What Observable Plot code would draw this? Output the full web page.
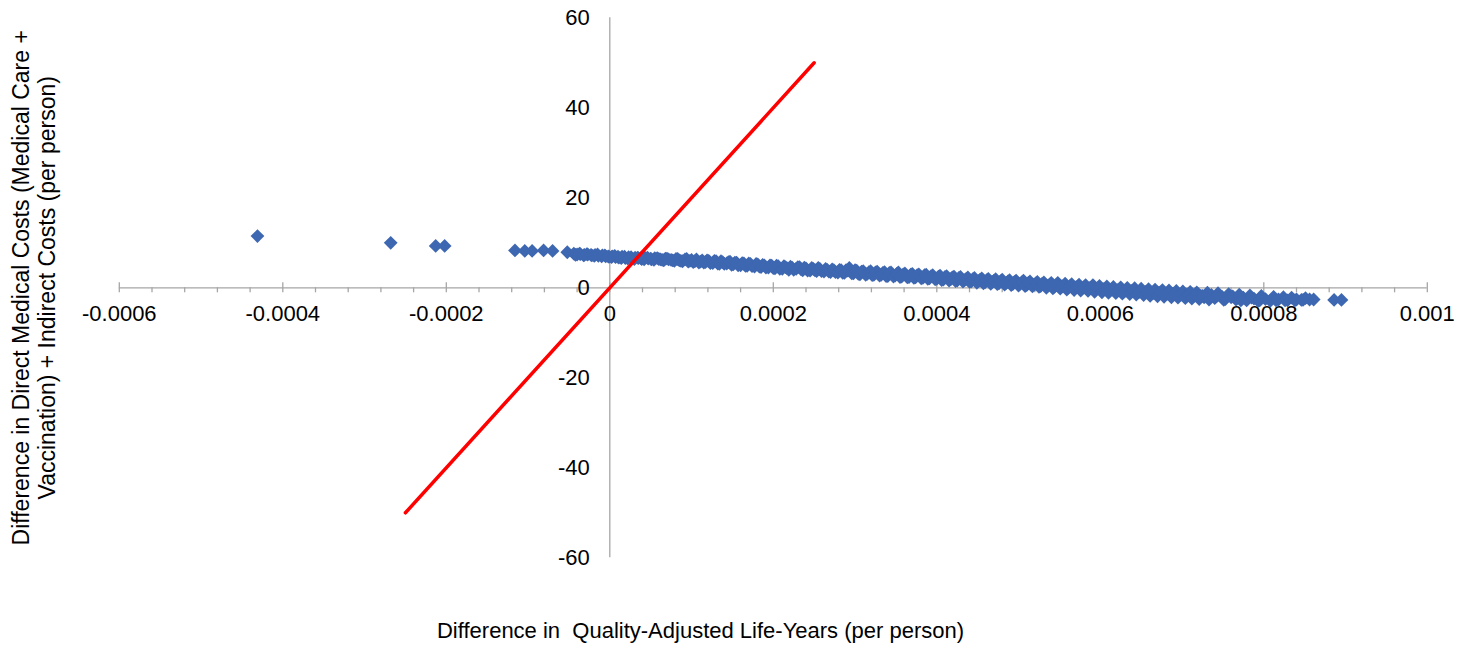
<!DOCTYPE html>
<html>
<head>
<meta charset="utf-8">
<script src="https://cdn.jsdelivr.net/npm/d3@7"></script>
<script src="https://cdn.jsdelivr.net/npm/@observablehq/plot@0.6"></script>
<style>
  html, body { margin: 0; padding: 0; background: #ffffff; }
  #chart { width: 1469px; height: 645px; }
</style>
</head>
<body>
<div id="chart"></div>
<script>
// Difference in QALYs (per person)
const qaly = [
  -431e-6, -268e-6, -213e-6, -202e-6, -116e-6, -104e-6, -95e-6, -81e-6, -70e-6, -52e-6,
  -44e-6, -40e-6, -36e-6, -31e-6, -27e-6, -22e-6, -18e-6, -14e-6, -9e-6, -5e-6,
  -1e-6, 3e-6, 7e-6, 11e-6, 15e-6, 19e-6, 23e-6, 27e-6, 31e-6, 35e-6,
  39e-6, 43e-6, 47e-6, 51e-6, 55e-6, 60e-6, 64e-6, 68e-6, 72e-6, 77e-6,
  81e-6, 85e-6, 89e-6, 94e-6, 98e-6, 102e-6, 106e-6, 111e-6, 115e-6, 119e-6,
  123e-6, 128e-6, 132e-6, 136e-6, 140e-6, 145e-6, 149e-6, 153e-6, 157e-6, 162e-6,
  166e-6, 170e-6, 174e-6, 179e-6, 183e-6, 187e-6, 191e-6, 196e-6, 200e-6, 204e-6,
  208e-6, 213e-6, 217e-6, 221e-6, 225e-6, 230e-6, 234e-6, 238e-6, 242e-6, 247e-6,
  251e-6, 255e-6, 259e-6, 264e-6, 268e-6, 272e-6, 276e-6, 281e-6, 285e-6, 289e-6,
  293e-6, 298e-6, 302e-6, 306e-6, 310e-6, 315e-6, 319e-6, 323e-6, 327e-6, 332e-6,
  336e-6, 340e-6, 344e-6, 349e-6, 353e-6, 357e-6, 361e-6, 366e-6, 370e-6, 374e-6,
  378e-6, 383e-6, 387e-6, 391e-6, 395e-6, 400e-6, 404e-6, 408e-6, 412e-6, 417e-6,
  421e-6, 425e-6, 429e-6, 434e-6, 438e-6, 442e-6, 446e-6, 451e-6, 455e-6, 459e-6,
  463e-6, 468e-6, 472e-6, 476e-6, 480e-6, 485e-6, 489e-6, 493e-6, 497e-6, 502e-6,
  506e-6, 510e-6, 514e-6, 519e-6, 523e-6, 527e-6, 531e-6, 536e-6, 540e-6, 544e-6,
  548e-6, 553e-6, 557e-6, 561e-6, 565e-6, 570e-6, 574e-6, 578e-6, 582e-6, 587e-6,
  591e-6, 595e-6, 599e-6, 604e-6, 608e-6, 612e-6, 616e-6, 621e-6, 625e-6, 629e-6,
  633e-6, 638e-6, 642e-6, 646e-6, 650e-6, 655e-6, 659e-6, 663e-6, 667e-6, 672e-6,
  676e-6, 680e-6, 684e-6, 689e-6, 693e-6, 697e-6, 701e-6, 706e-6, 710e-6, 714e-6,
  718e-6, 723e-6, 727e-6, 731e-6, 736e-6, 740e-6, 744e-6, 749e-6, 753e-6, 757e-6,
  762e-6, 766e-6, 770e-6, 775e-6, 779e-6, 783e-6, 788e-6, 793e-6, 797e-6, 802e-6,
  808e-6, 812e-6, 818e-6, 824e-6, 829e-6, 834e-6, 840e-6, 846e-6, 851e-6, 856e-6,
  861e-6, 886e-6, 895e-6,
  -42e-6, -37e-6, -32e-6, -28e-6, -23e-6, -19e-6, -15e-6, -10e-6, -6e-6, -2e-6,
  2e-6, 6e-6, 10e-6, 14e-6, 18e-6, 22e-6, 26e-6, 30e-6, 34e-6, 38e-6,
  42e-6, 46e-6, 50e-6, 54e-6, 58e-6, 62e-6, 66e-6, 70e-6, 75e-6, 79e-6,
  83e-6, 87e-6, 92e-6, 96e-6, 100e-6, 104e-6, 109e-6, 113e-6, 117e-6, 121e-6,
  126e-6, 130e-6, 134e-6, 138e-6, 143e-6, 147e-6, 151e-6, 155e-6, 160e-6, 164e-6,
  168e-6, 172e-6, 177e-6, 181e-6, 185e-6, 189e-6, 194e-6, 198e-6, 202e-6, 206e-6,
  211e-6, 215e-6, 219e-6, 223e-6, 228e-6, 232e-6, 236e-6, 240e-6, 245e-6, 249e-6,
  253e-6, 257e-6, 262e-6, 266e-6, 270e-6, 274e-6, 279e-6, 283e-6, 287e-6, 291e-6,
  296e-6, 300e-6, 304e-6, 308e-6, 313e-6, 317e-6, 321e-6, 325e-6, 330e-6, 334e-6,
  338e-6, 342e-6, 347e-6, 351e-6, 355e-6, 359e-6, 364e-6, 368e-6, 372e-6, 376e-6,
  381e-6, 385e-6, 389e-6, 393e-6, 398e-6, 402e-6, 406e-6, 410e-6, 415e-6, 419e-6,
  423e-6, 427e-6, 432e-6, 436e-6, 440e-6, 444e-6, 449e-6, 453e-6, 457e-6, 461e-6,
  466e-6, 470e-6, 474e-6, 478e-6, 483e-6, 487e-6, 491e-6, 495e-6, 500e-6, 504e-6,
  508e-6, 512e-6, 517e-6, 521e-6, 525e-6, 529e-6, 534e-6, 538e-6, 542e-6, 546e-6,
  551e-6, 555e-6, 559e-6, 563e-6, 568e-6, 572e-6, 576e-6, 580e-6, 585e-6, 589e-6,
  593e-6, 597e-6, 602e-6, 606e-6, 610e-6, 614e-6, 619e-6, 623e-6, 627e-6, 631e-6,
  636e-6, 640e-6, 644e-6, 648e-6, 653e-6, 657e-6, 661e-6, 665e-6, 670e-6, 674e-6,
  678e-6, 682e-6, 687e-6, 691e-6, 695e-6, 699e-6, 704e-6, 708e-6, 712e-6, 716e-6,
  721e-6, 725e-6, 733e-6, 742e-6, 751e-6, 760e-6, 772e-6, 785e-6, 795e-6, 815e-6,
  826e-6, 838e-6, 848e-6
];
// Difference in direct medical + indirect costs (per person)
const cost = [
  11.5, 10.0, 9.3, 9.3, 8.3, 8.2, 8.2, 8.3, 8.2, 7.9,
  7.6, 7.4, 7.5, 7.3, 7.4, 7.2, 7.3, 7.1, 7.2, 7.0,
  6.9, 7.0, 6.8, 6.7, 6.9, 6.6, 6.8, 6.5, 6.7, 6.6,
  6.4, 6.7, 6.5, 6.3, 6.6, 6.4, 6.2, 6.5, 6.3, 6.1,
  6.4, 6.1, 5.9, 6.4, 6.0, 5.7, 6.3, 5.8, 5.6, 6.1,
  5.5, 6.0, 5.4, 5.9, 5.3, 5.7, 5.1, 5.6, 5.0, 5.5,
  4.9, 5.4, 4.8, 5.3, 4.7, 5.1, 4.5, 5.0, 4.4, 4.9,
  4.2, 4.8, 4.3, 4.7, 4.0, 4.6, 4.1, 4.5, 3.8, 4.4,
  3.9, 4.4, 3.7, 4.2, 3.6, 4.1, 3.5, 4.0, 3.3, 3.9,
  4.4, 3.2, 3.8, 3.0, 3.7, 3.1, 3.7, 2.9, 3.6, 2.9,
  3.5, 2.6, 3.4, 2.7, 3.4, 2.5, 3.2, 2.4, 3.1, 2.3,
  3.0, 2.2, 2.9, 2.1, 2.8, 2.0, 2.7, 1.8, 2.6, 1.9,
  2.5, 1.6, 2.4, 1.7, 2.3, 1.4, 2.2, 1.5, 2.1, 1.2,
  2.0, 1.3, 1.9, 1.0, 1.8, 1.1, 1.7, 0.8, 1.6, 0.9,
  1.6, 0.6, 1.4, 0.7, 1.3, 0.4, 1.2, 0.5, 1.1, 0.2,
  1.1, 0.3, 0.9, 0.0, 0.8, 0.1, 0.7, -0.2, 0.6, -0.1,
  0.6, -0.4, 0.4, -0.3, 0.3, -0.6, 0.2, -0.5, 0.1, -0.8,
  0.0, -0.7, -0.1, -1.0, -0.2, -0.9, -0.3, -1.2, -0.4, -1.1,
  -0.5, -1.4, -0.6, -1.3, -0.7, -1.6, -0.8, -1.5, -0.9, -1.9,
  -1.0, -1.8, -2.1, -1.1, -1.6, -2.3, -1.2, -2.0, -2.5, -1.4,
  -1.9, -2.6, -1.5, -2.2, -2.8, -1.7, -2.4, -2.9, -1.8, -2.5,
  -2.9, -2.0, -2.6, -2.1, -2.8, -2.2, -2.6, -2.7, -2.3, -2.6,
  -2.6, -2.7, -2.7,
  7.3, 7.6, 7.2, 7.5, 7.3, 7.1, 7.4, 7.0, 7.2, 7.0,
  6.8, 7.1, 6.9, 6.6, 6.9, 6.5, 6.8, 6.4, 6.7, 6.6,
  6.3, 6.7, 6.5, 6.2, 6.6, 6.3, 6.1, 6.5, 6.2, 6.0,
  6.4, 6.0, 6.3, 5.8, 6.2, 5.9, 5.6, 6.1, 5.7, 6.0,
  5.5, 5.9, 5.3, 5.7, 5.4, 5.8, 5.2, 5.6, 5.0, 5.4,
  4.9, 5.3, 4.7, 5.2, 4.6, 5.0, 4.5, 4.9, 4.3, 4.8,
  4.2, 4.6, 4.0, 4.5, 4.2, 4.6, 3.9, 4.3, 3.8, 4.2,
  3.7, 4.2, 3.6, 4.0, 3.5, 3.9, 3.4, 3.9, 3.3, 3.8,
  3.2, 3.9, 3.1, 3.6, 2.9, 3.5, 2.8, 3.4, 2.7, 3.3,
  2.6, 3.3, 2.5, 3.1, 2.4, 3.0, 2.3, 2.9, 2.2, 2.8,
  2.1, 2.8, 2.0, 2.6, 1.9, 2.5, 1.7, 2.4, 1.6, 2.3,
  1.5, 2.2, 1.4, 2.0, 1.3, 1.9, 1.1, 1.8, 1.0, 1.7,
  0.9, 1.6, 0.8, 1.5, 0.7, 1.4, 0.6, 1.3, 0.5, 1.2,
  0.4, 1.1, 0.3, 1.0, 0.2, 0.9, 0.0, 0.7, -0.1, 0.6,
  -0.2, 0.5, -0.4, 0.4, -0.5, 0.3, -0.6, 0.1, -0.7, 0.0,
  -0.9, -0.1, -1.0, -0.2, -1.1, -0.3, -1.2, -0.4, -1.3, -0.6,
  -1.4, -0.7, -1.5, -0.9, -1.6, -1.0, -1.8, -1.1, -1.9, -1.2,
  -2.0, -1.3, -2.1, -1.4, -2.2, -1.5, -2.3, -1.6, -2.4, -1.7,
  -2.5, -1.8, -2.6, -1.9, -2.7, -2.1, -2.8, -2.2, -2.8, -2.8,
  -2.8, -2.8, -2.7
];
// Threshold (willingness-to-pay) line
const lineQaly = [-0.00025, 0.00025];
const lineCost = [-50, 50];
// Axis ticks and labels
const xTicks = [-0.0006, -0.0004, -0.0002, 0, 0.0002, 0.0004, 0.0006, 0.0008, 0.001];
const xTickLabels = ["-0.0006", "-0.0004", "-0.0002", "0", "0.0002", "0.0004", "0.0006", "0.0008", "0.001"];
const yTicks = [60, 40, 20, 0, -20, -40, -60];
const yTickLabels = ["60", "40", "20", "0", "-20", "-40", "-60"];
const xTitle = "Difference in  Quality-Adjusted Life-Years (per person)";
const yTitle = "Difference in Direct Medical Costs (Medical Care +\nVaccination) + Indirect Costs (per person)";

const points = qaly.map((q, i) => ({q, c: cost[i]}));
const threshold = lineQaly.map((q, i) => ({q, c: lineCost[i]}));
const xMinor = d3.range(0, 41).map(i => -0.0006 + i * 0.00004)
  .filter(v => !xTicks.some(t => Math.abs(t - v) < 1e-9));
const xTickRows = xTicks.map((t, i) => ({t, label: xTickLabels[i]}));
const yTickRows = yTicks.map((t, i) => ({t, label: yTickLabels[i]}));

const axisColor = "#a6a6a6";
const fs = 22;
const chart = Plot.plot({
  width: 1469,
  height: 645,
  marginLeft: 118.8,
  marginRight: 42.2,
  marginTop: 17.3,
  marginBottom: 87.7,
  x: {domain: [-0.0006, 0.001], axis: null},
  y: {domain: [-60, 60], axis: null},
  style: {fontFamily: "'Liberation Sans', Arial, Helvetica, sans-serif", fontSize: fs + "px", background: "#ffffff", color: "#000000"},
  marks: [
    Plot.ruleY([0], {stroke: axisColor, strokeWidth: 1.3}),
    Plot.ruleX([0], {stroke: axisColor, strokeWidth: 1.3}),
    Plot.ruleX(xTicks, {x: d => d, y1: 0, y2: 0, insetTop: -5, insetBottom: -5, stroke: axisColor, strokeWidth: 1.3}),
    Plot.ruleX(xMinor, {x: d => d, y1: 0, y2: 0, insetTop: 0, insetBottom: -5, stroke: axisColor, strokeWidth: 1.3}),
    Plot.text(xTickRows, {x: "t", y: () => 0, text: "label", dy: 26, fill: "#000000", fontSize: fs}),
    Plot.text(yTickRows, {x: () => 0, y: "t", text: "label", dx: -20, textAnchor: "end", fill: "#000000", fontSize: fs}),
    Plot.dot(points, {x: "q", y: "c", symbol: "diamond2", r: 6.2, fill: "#3e67b1", stroke: "none"}),
    Plot.line(threshold, {x: "q", y: "c", stroke: "#ff0000", strokeWidth: 3.5}),
    Plot.text([xTitle], {frameAnchor: "bottom", lineAnchor: "middle", dx: -72.8, dy: 72.7, fill: "#000000", fontSize: fs}),
    Plot.text([yTitle], {frameAnchor: "left", textAnchor: "middle", lineAnchor: "middle", dx: -86, dy: 0, rotate: -90, lineHeight: 1.14, fill: "#000000", fontSize: 23})
  ]
});
document.getElementById("chart").appendChild(chart);
</script>
</body>
</html>
